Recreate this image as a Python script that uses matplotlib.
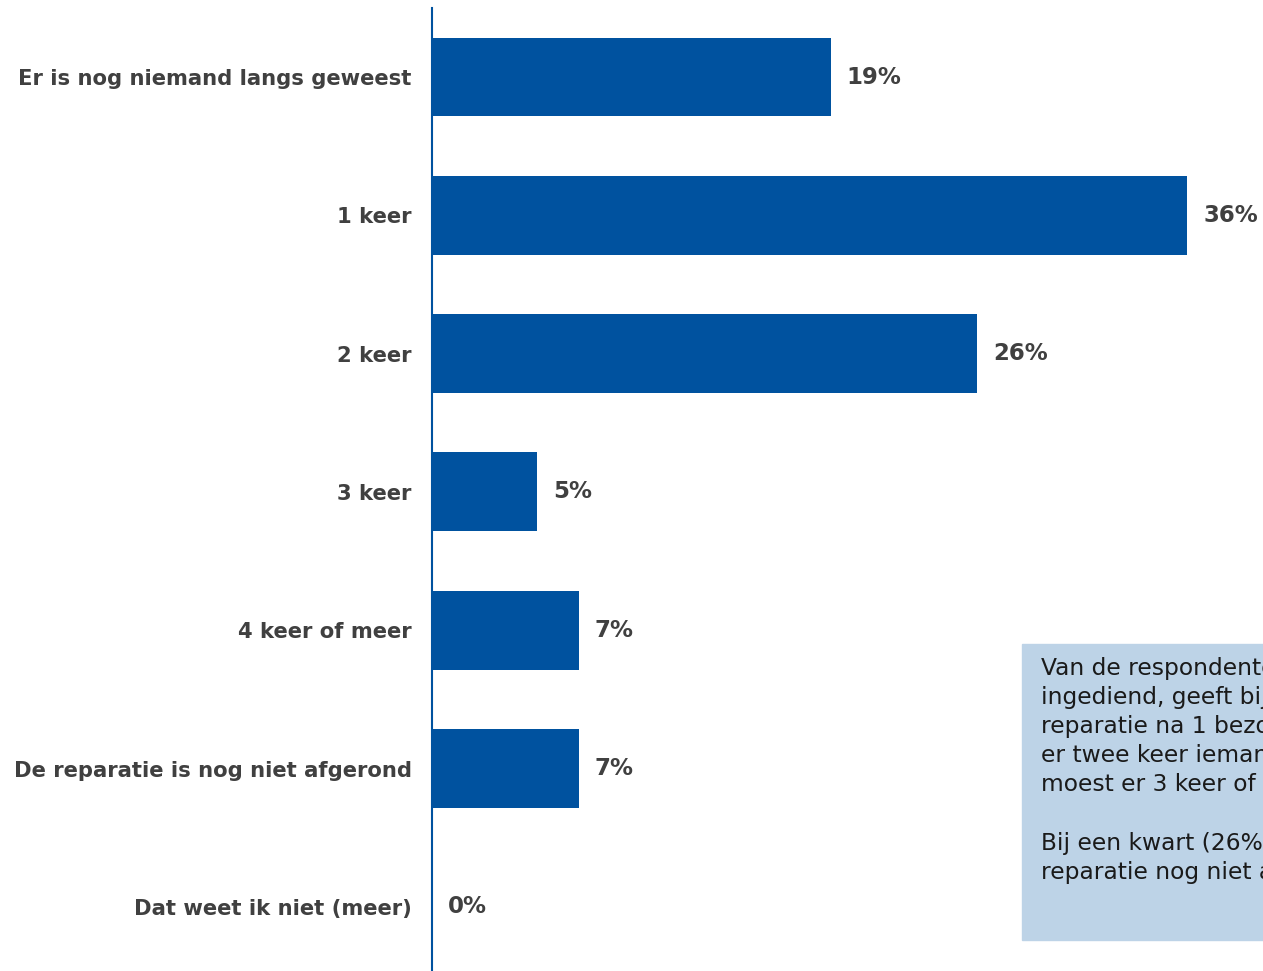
import matplotlib.pyplot as plt
from matplotlib.patches import Rectangle

# aantal keer dat er iemand langs is geweest voor de reparatie
categorieen = [
    'Er is nog niemand langs geweest',
    '1 keer',
    '2 keer',
    '3 keer',
    '4 keer of meer',
    'De reparatie is nog niet afgerond',
    'Dat weet ik niet (meer)',
]
percentages = [19, 36, 26, 5, 7, 7, 0]

toelichting = [
    'Van de respondenten die een',
    'ingediend, geeft bijna de helft',
    'reparatie na 1 bezoek is',
    'er twee keer iemand langs',
    'moest er 3 keer of vaker',
    '',
    'Bij een kwart (26%) is de',
    'reparatie nog niet afgerond.',
]

blauw = '#00529F'
grijs = '#404040'

plt.rcParams['font.family'] = ['DejaVu Sans']

fig = plt.figure(figsize=(12.63, 9.71), dpi=100)
ax = fig.add_axes([432 / 1263, 0, 1 - 432 / 1263, 1 - 8 / 971])

y = list(range(len(categorieen)))
ax.barh(y, percentages, height=0.571, color=blauw)

for i, p in enumerate(percentages):
    ax.annotate(f'{p}%', (p, i), xytext=(11.5, 0), textcoords='offset points',
                va='center', ha='left', fontsize=16.5, fontweight='bold', color=grijs)

ax.set_xlim(0, 39.62)
ax.set_ylim(6.464, -0.499)
ax.set_yticks(y)
ax.set_yticklabels(categorieen, fontsize=15.2, fontweight='bold', color=grijs)
ax.tick_params(axis='y', length=0, pad=14.5)
ax.set_xticks([])

for s in ['top', 'right', 'bottom']:
    ax.spines[s].set_visible(False)
ax.spines['left'].set_color(blauw)
ax.spines['left'].set_linewidth(1.5)

# tekstvak rechtsonder
fig.patches.append(Rectangle((1022 / 1263, 1 - 940 / 971), 300 / 1263, 296 / 971,
                             transform=fig.transFigure, color='#BDD3E7', zorder=0))
fig.text(1041 / 1263, 1 - 657 / 971, '\n'.join(toelichting), fontsize=16.8,
         color='#1a1a1a', va='top', ha='left', linespacing=1.34)

fig.savefig('out.png', dpi=100)
